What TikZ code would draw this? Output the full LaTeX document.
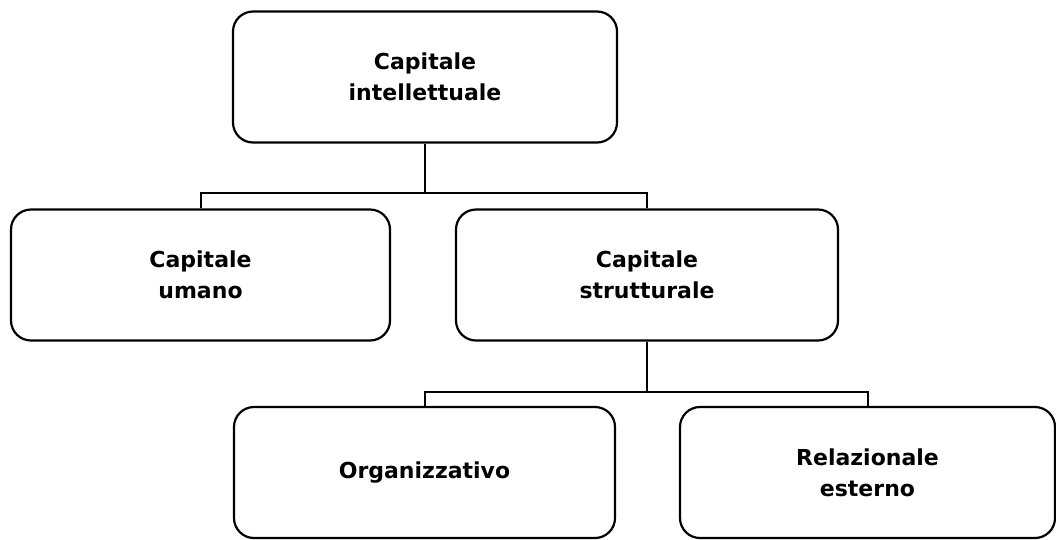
\documentclass[tikz,border=0pt]{standalone}
\usepackage{fontspec}
\setmainfont{DejaVu Sans}
\usepackage{tikz}
\usetikzlibrary{positioning}

\tikzset{
  capbox/.style={draw, line width=2.2pt, rounded corners=20pt, fill=white,
    minimum width=382pt, minimum height=131pt, align=center,
    font=\fontsize{22}{31}\selectfont\bfseries},
  link/.style={line width=2pt}
}

\begin{document}
\begin{tikzpicture}[x=1pt, y=-1pt]
\useasboundingbox (0,0) rectangle (1056,539);

% --- Boxes ---
\node[capbox, minimum width=384pt] (intel) at (425,77) {Capitale\\intellettuale};
\node[capbox, minimum width=379pt] (umano) at (200.5,275) {Capitale\\umano};
\node[capbox] (strut) at (647,275) {Capitale\\strutturale};
\node[capbox, minimum width=381pt] (organ) at (424.5,472.5) {Organizzativo};
\node[capbox, minimum width=375pt] (relaz) at (867.5,472.5) {Relazionale\\esterno};

% --- Connectors ---
\coordinate (bus1) at (425,193);
\coordinate (bus2) at (647,392);
\draw[link] (intel.south) -- (bus1);
\draw[link] (bus1) -| (umano.north);
\draw[link] (bus1) -| (strut.north);
\draw[link] (strut.south) -- (bus2);
\draw[link] (bus2) -| (organ.north);
\draw[link] (bus2) -| (relaz.north);
\end{tikzpicture}
\end{document}
